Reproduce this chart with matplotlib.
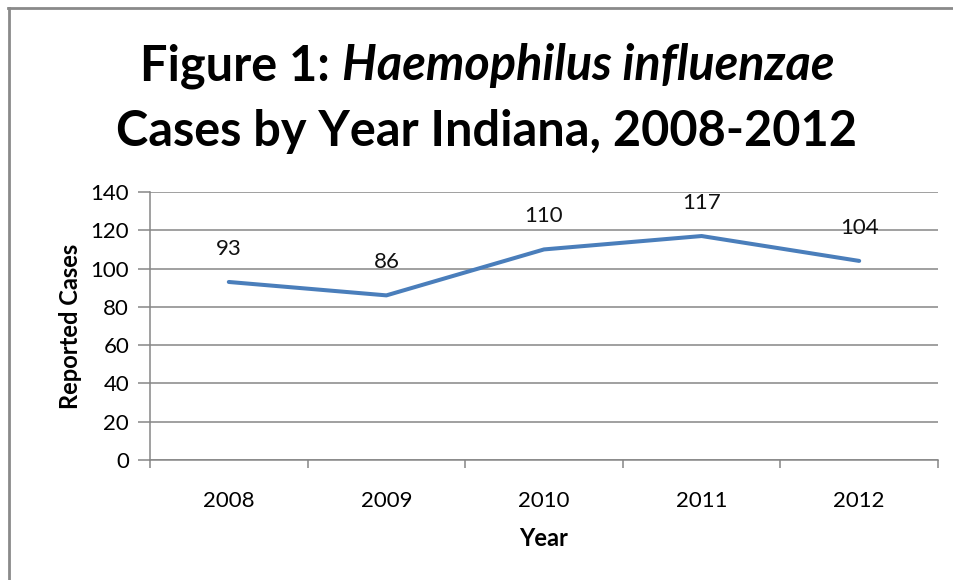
import numpy as np
import matplotlib
matplotlib.use('Agg')
import matplotlib.pyplot as plt
from matplotlib.lines import Line2D

years = ['2008', '2009', '2010', '2011', '2012']
cases = [93, 86, 110, 117, 104]
yticks = [0, 20, 40, 60, 80, 100, 120, 140]

plt.rcParams['font.family'] = ['Lato', 'DejaVu Sans']

W, H = 954, 580
fig = plt.figure(figsize=(W / 100, H / 100), dpi=100)
ax = fig.add_axes([150 / W, 1 - 460 / H, (938 - 150) / W, (460 - 192) / H])

fs = 16
x = np.arange(len(years))
ax.plot(x, cases, color='#4A7EBB', linewidth=2.9, solid_capstyle='round', zorder=3)
for xi, v in zip(x, cases):
    ax.annotate(str(v), (xi, v), xytext=(0, 24), textcoords='offset points',
                ha='center', va='center', fontsize=fs, color='#111111')

ax.set_xlim(-0.5, len(years) - 0.5)
ax.set_ylim(0, 140)
ax.set_yticks(yticks)
ax.yaxis.grid(True, color='#868686', linewidth=1.1)
ax.set_axisbelow(True)

# category ticks sit between the years, labels at the centres
ax.set_xticks(np.arange(len(years) + 1) - 0.5)
ax.set_xticklabels([])
ax.set_xticks(x, minor=True)
ax.set_xticklabels(years, minor=True, fontsize=fs)
ax.tick_params(axis='x', which='minor', length=0, pad=22)
ax.tick_params(axis='x', which='major', length=6, color='#868686', width=1.1, direction='out')
ax.tick_params(axis='y', length=9, color='#868686', width=1.1, labelsize=fs, pad=6)

for s in ['top', 'right']:
    ax.spines[s].set_visible(False)
for s in ['left', 'bottom']:
    ax.spines[s].set_color('#868686')
    ax.spines[s].set_linewidth(1.1)

ax.set_ylabel('Reported Cases', fontsize=17, fontweight='bold', labelpad=6)
ax.set_xlabel('Year', fontsize=17, fontweight='bold', labelpad=12)

# title: two lines, genus/species in italic
fig.canvas.draw()
r = fig.canvas.get_renderer()
tsize = 35
yline1 = 1 - 66 / H
t1 = fig.text(0, yline1, 'Figure 1: ', fontsize=tsize, fontweight='bold', va='center')
t2 = fig.text(0, yline1, 'Haemophilus influenzae', fontsize=tsize, fontweight='bold',
              style='italic', va='center')
w1 = t1.get_window_extent(r).width
w2 = t2.get_window_extent(r).width
cx = 487
x0 = cx - (w1 + w2) / 2
t1.set_x(x0 / W)
t2.set_x((x0 + w1) / W)
fig.text(cx / W, 1 - 131 / H, 'Cases by Year Indiana, 2008-2012', fontsize=tsize,
         fontweight='bold', ha='center', va='center')

# frame of the chart area (top and left edges visible)
fig.add_artist(Line2D([8 / W, 1], [1 - 8 / H, 1 - 8 / H], color='#8a8a8a', linewidth=2,
                      transform=fig.transFigure))
fig.add_artist(Line2D([9 / W, 9 / W], [0, 1 - 8 / H], color='#8a8a8a', linewidth=2,
                      transform=fig.transFigure))

fig.savefig('out.png', dpi=100)
